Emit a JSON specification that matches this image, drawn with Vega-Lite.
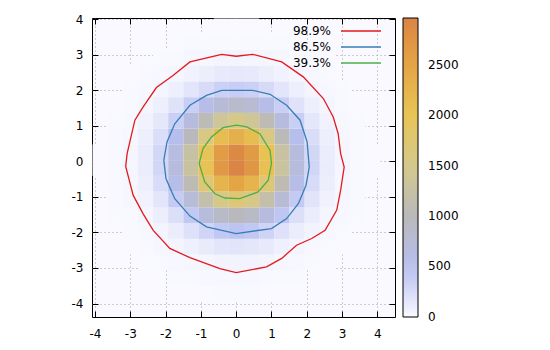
{
  "$schema": "https://vega.github.io/schema/vega-lite/v6.json",
  "width": 303,
  "height": 299,
  "autosize": {"type": "none"},
  "padding": {"left": 92, "top": 18, "right": 155, "bottom": 33},
  "config": {
    "view": {"stroke": "black", "strokeWidth": 1, "fill": "#f9f9ff"},
    "font": "DejaVu Sans",
    "axis": {
      "labelFont": "DejaVu Sans", "labelFontSize": 12, "labelColor": "black", "labelExpr": "'' + datum.value",
      "tickColor": "black", "tickSize": -6, "tickWidth": 1, "domain": false,
      "gridColor": "#a0a0a0", "gridDash": [1, 3], "gridWidth": 1, "zindex": 1, "title": null
    },
    "legend": {"labelFont": "DejaVu Sans", "labelFontSize": 12, "labelColor": "black", "padding": 0}
  },
  "datasets": {
    "hist": [
      {"x": -1.08, "y": -3.937, "v": 2}, {"x": -0.651, "y": -3.937, "v": 3}, {"x": -0.221, "y": -3.937, "v": 3}, {"x": 0.208, "y": -3.937, "v": 3}, {"x": 0.637, "y": -3.937, "v": 2},
      {"x": -1.939, "y": -3.494, "v": 3}, {"x": -1.509, "y": -3.494, "v": 6}, {"x": -1.08, "y": -3.494, "v": 11}, {"x": -0.651, "y": -3.494, "v": 13}, {"x": -0.221, "y": -3.494, "v": 15}, {"x": 0.208, "y": -3.494, "v": 12}, {"x": 0.637, "y": -3.494, "v": 9}, {"x": 1.067, "y": -3.494, "v": 7}, {"x": 1.496, "y": -3.494, "v": 3},
      {"x": -2.797, "y": -3.051, "v": 2}, {"x": -2.368, "y": -3.051, "v": 6}, {"x": -1.939, "y": -3.051, "v": 12}, {"x": -1.509, "y": -3.051, "v": 25}, {"x": -1.08, "y": -3.051, "v": 36}, {"x": -0.651, "y": -3.051, "v": 51}, {"x": -0.221, "y": -3.051, "v": 53}, {"x": 0.208, "y": -3.051, "v": 49}, {"x": 0.637, "y": -3.051, "v": 40}, {"x": 1.067, "y": -3.051, "v": 23}, {"x": 1.496, "y": -3.051, "v": 13}, {"x": 1.925, "y": -3.051, "v": 5}, {"x": 2.354, "y": -3.051, "v": 2},
      {"x": -3.226, "y": -2.608, "v": 2}, {"x": -2.797, "y": -2.608, "v": 6}, {"x": -2.368, "y": -2.608, "v": 18}, {"x": -1.939, "y": -2.608, "v": 38}, {"x": -1.509, "y": -2.608, "v": 77}, {"x": -1.08, "y": -2.608, "v": 118}, {"x": -0.651, "y": -2.608, "v": 161}, {"x": -0.221, "y": -2.608, "v": 171}, {"x": 0.208, "y": -2.608, "v": 157}, {"x": 0.637, "y": -2.608, "v": 124}, {"x": 1.067, "y": -2.608, "v": 75}, {"x": 1.496, "y": -2.608, "v": 41}, {"x": 1.925, "y": -2.608, "v": 17}, {"x": 2.354, "y": -2.608, "v": 7}, {"x": 2.784, "y": -2.608, "v": 2},
      {"x": -3.226, "y": -2.165, "v": 5}, {"x": -2.797, "y": -2.165, "v": 16}, {"x": -2.368, "y": -2.165, "v": 45}, {"x": -1.939, "y": -2.165, "v": 100}, {"x": -1.509, "y": -2.165, "v": 199}, {"x": -1.08, "y": -2.165, "v": 309}, {"x": -0.651, "y": -2.165, "v": 416}, {"x": -0.221, "y": -2.165, "v": 449}, {"x": 0.208, "y": -2.165, "v": 418}, {"x": 0.637, "y": -2.165, "v": 312}, {"x": 1.067, "y": -2.165, "v": 201}, {"x": 1.496, "y": -2.165, "v": 103}, {"x": 1.925, "y": -2.165, "v": 47}, {"x": 2.354, "y": -2.165, "v": 16}, {"x": 2.784, "y": -2.165, "v": 5},
      {"x": -3.656, "y": -1.722, "v": 3}, {"x": -3.226, "y": -1.722, "v": 10}, {"x": -2.797, "y": -1.722, "v": 35}, {"x": -2.368, "y": -1.722, "v": 95}, {"x": -1.939, "y": -1.722, "v": 222}, {"x": -1.509, "y": -1.722, "v": 418}, {"x": -1.08, "y": -1.722, "v": 675}, {"x": -0.651, "y": -1.722, "v": 881}, {"x": -0.221, "y": -1.722, "v": 978}, {"x": 0.208, "y": -1.722, "v": 895}, {"x": 0.637, "y": -1.722, "v": 672}, {"x": 1.067, "y": -1.722, "v": 433}, {"x": 1.496, "y": -1.722, "v": 221}, {"x": 1.925, "y": -1.722, "v": 99}, {"x": 2.354, "y": -1.722, "v": 37}, {"x": 2.784, "y": -1.722, "v": 11}, {"x": 3.213, "y": -1.722, "v": 3},
      {"x": -3.656, "y": -1.279, "v": 5}, {"x": -3.226, "y": -1.279, "v": 18}, {"x": -2.797, "y": -1.279, "v": 62}, {"x": -2.368, "y": -1.279, "v": 167}, {"x": -1.939, "y": -1.279, "v": 391}, {"x": -1.509, "y": -1.279, "v": 738}, {"x": -1.08, "y": -1.279, "v": 1186}, {"x": -0.651, "y": -1.279, "v": 1554}, {"x": -0.221, "y": -1.279, "v": 1722}, {"x": 0.208, "y": -1.279, "v": 1563}, {"x": 0.637, "y": -1.279, "v": 1199}, {"x": 1.067, "y": -1.279, "v": 751}, {"x": 1.496, "y": -1.279, "v": 398}, {"x": 1.925, "y": -1.279, "v": 171}, {"x": 2.354, "y": -1.279, "v": 64}, {"x": 2.784, "y": -1.279, "v": 19}, {"x": 3.213, "y": -1.279, "v": 5},
      {"x": -3.656, "y": -0.836, "v": 7}, {"x": -3.226, "y": -0.836, "v": 27}, {"x": -2.797, "y": -0.836, "v": 88}, {"x": -2.368, "y": -0.836, "v": 243}, {"x": -1.939, "y": -0.836, "v": 565}, {"x": -1.509, "y": -0.836, "v": 1071}, {"x": -1.08, "y": -0.836, "v": 1716}, {"x": -0.651, "y": -0.836, "v": 2251}, {"x": -0.221, "y": -0.836, "v": 2490}, {"x": 0.208, "y": -0.836, "v": 2275}, {"x": 0.637, "y": -0.836, "v": 1722}, {"x": 1.067, "y": -0.836, "v": 1098}, {"x": 1.496, "y": -0.836, "v": 570}, {"x": 1.925, "y": -0.836, "v": 254}, {"x": 2.354, "y": -0.836, "v": 90}, {"x": 2.784, "y": -0.836, "v": 28}, {"x": 3.213, "y": -0.836, "v": 7},
      {"x": -4.085, "y": -0.393, "v": 2}, {"x": -3.656, "y": -0.393, "v": 8}, {"x": -3.226, "y": -0.393, "v": 31}, {"x": -2.797, "y": -0.393, "v": 106}, {"x": -2.368, "y": -0.393, "v": 289}, {"x": -1.939, "y": -0.393, "v": 671}, {"x": -1.509, "y": -0.393, "v": 1276}, {"x": -1.08, "y": -0.393, "v": 2038}, {"x": -0.651, "y": -0.393, "v": 2680}, {"x": -0.221, "y": -0.393, "v": 2962}, {"x": 0.208, "y": -0.393, "v": 2697}, {"x": 0.637, "y": -0.393, "v": 2060}, {"x": 1.067, "y": -0.393, "v": 1303}, {"x": 1.496, "y": -0.393, "v": 680}, {"x": 1.925, "y": -0.393, "v": 300}, {"x": 2.354, "y": -0.393, "v": 108}, {"x": 2.784, "y": -0.393, "v": 33}, {"x": 3.213, "y": -0.393, "v": 8}, {"x": 3.642, "y": -0.393, "v": 2},
      {"x": -4.085, "y": 0.05, "v": 2}, {"x": -3.656, "y": 0.05, "v": 8}, {"x": -3.226, "y": 0.05, "v": 31}, {"x": -2.797, "y": 0.05, "v": 102}, {"x": -2.368, "y": 0.05, "v": 286}, {"x": -1.939, "y": 0.05, "v": 651}, {"x": -1.509, "y": 0.05, "v": 1255}, {"x": -1.08, "y": 0.05, "v": 1986}, {"x": -0.651, "y": 0.05, "v": 2633}, {"x": -0.221, "y": 0.05, "v": 2888}, {"x": 0.208, "y": 0.05, "v": 2640}, {"x": 0.637, "y": 0.05, "v": 2017}, {"x": 1.067, "y": 0.05, "v": 1269}, {"x": 1.496, "y": 0.05, "v": 671}, {"x": 1.925, "y": 0.05, "v": 290}, {"x": 2.354, "y": 0.05, "v": 106}, {"x": 2.784, "y": 0.05, "v": 32}, {"x": 3.213, "y": 0.05, "v": 8}, {"x": 3.642, "y": 0.05, "v": 2},
      {"x": -3.656, "y": 0.493, "v": 6}, {"x": -3.226, "y": 0.493, "v": 25}, {"x": -2.797, "y": 0.493, "v": 84}, {"x": -2.368, "y": 0.493, "v": 227}, {"x": -1.939, "y": 0.493, "v": 528}, {"x": -1.509, "y": 0.493, "v": 1002}, {"x": -1.08, "y": 0.493, "v": 1601}, {"x": -0.651, "y": 0.493, "v": 2106}, {"x": -0.221, "y": 0.493, "v": 2327}, {"x": 0.208, "y": 0.493, "v": 2118}, {"x": 0.637, "y": 0.493, "v": 1620}, {"x": 1.067, "y": 0.493, "v": 1019}, {"x": 1.496, "y": 0.493, "v": 539}, {"x": 1.925, "y": 0.493, "v": 233}, {"x": 2.354, "y": 0.493, "v": 86}, {"x": 2.784, "y": 0.493, "v": 26}, {"x": 3.213, "y": 0.493, "v": 7},
      {"x": -3.656, "y": 0.936, "v": 4}, {"x": -3.226, "y": 0.936, "v": 16}, {"x": -2.797, "y": 0.936, "v": 55}, {"x": -2.368, "y": 0.936, "v": 150}, {"x": -1.939, "y": 0.936, "v": 349}, {"x": -1.509, "y": 0.936, "v": 662}, {"x": -1.08, "y": 0.936, "v": 1060}, {"x": -0.651, "y": 0.936, "v": 1392}, {"x": -0.221, "y": 0.936, "v": 1541}, {"x": 0.208, "y": 0.936, "v": 1400}, {"x": 0.637, "y": 0.936, "v": 1072}, {"x": 1.067, "y": 0.936, "v": 673}, {"x": 1.496, "y": 0.936, "v": 357}, {"x": 1.925, "y": 0.936, "v": 154}, {"x": 2.354, "y": 0.936, "v": 57}, {"x": 2.784, "y": 0.936, "v": 17}, {"x": 3.213, "y": 0.936, "v": 4},
      {"x": -3.656, "y": 1.379, "v": 2}, {"x": -3.226, "y": 1.379, "v": 9}, {"x": -2.797, "y": 1.379, "v": 30}, {"x": -2.368, "y": 1.379, "v": 81}, {"x": -1.939, "y": 1.379, "v": 190}, {"x": -1.509, "y": 1.379, "v": 359}, {"x": -1.08, "y": 1.379, "v": 577}, {"x": -0.651, "y": 1.379, "v": 755}, {"x": -0.221, "y": 1.379, "v": 838}, {"x": 0.208, "y": 1.379, "v": 760}, {"x": 0.637, "y": 1.379, "v": 583}, {"x": 1.067, "y": 1.379, "v": 365}, {"x": 1.496, "y": 1.379, "v": 194}, {"x": 1.925, "y": 1.379, "v": 85}, {"x": 2.354, "y": 1.379, "v": 31}, {"x": 2.784, "y": 1.379, "v": 9}, {"x": 3.213, "y": 1.379, "v": 2},
      {"x": -3.226, "y": 1.822, "v": 4}, {"x": -2.797, "y": 1.822, "v": 13}, {"x": -2.368, "y": 1.822, "v": 37}, {"x": -1.939, "y": 1.822, "v": 83}, {"x": -1.509, "y": 1.822, "v": 162}, {"x": -1.08, "y": 1.822, "v": 254}, {"x": -0.651, "y": 1.822, "v": 340}, {"x": -0.221, "y": 1.822, "v": 370}, {"x": 0.208, "y": 1.822, "v": 342}, {"x": 0.637, "y": 1.822, "v": 261}, {"x": 1.067, "y": 1.822, "v": 163}, {"x": 1.496, "y": 1.822, "v": 86}, {"x": 1.925, "y": 1.822, "v": 38}, {"x": 2.354, "y": 1.822, "v": 14}, {"x": 2.784, "y": 1.822, "v": 4},
      {"x": -3.226, "y": 2.265, "v": 2}, {"x": -2.797, "y": 2.265, "v": 5}, {"x": -2.368, "y": 2.265, "v": 13}, {"x": -1.939, "y": 2.265, "v": 31}, {"x": -1.509, "y": 2.265, "v": 59}, {"x": -1.08, "y": 2.265, "v": 94}, {"x": -0.651, "y": 2.265, "v": 123}, {"x": -0.221, "y": 2.265, "v": 137}, {"x": 0.208, "y": 2.265, "v": 125}, {"x": 0.637, "y": 2.265, "v": 95}, {"x": 1.067, "y": 2.265, "v": 60}, {"x": 1.496, "y": 2.265, "v": 31}, {"x": 1.925, "y": 2.265, "v": 14}, {"x": 2.354, "y": 2.265, "v": 5},
      {"x": -2.368, "y": 2.708, "v": 4}, {"x": -1.939, "y": 2.708, "v": 9}, {"x": -1.509, "y": 2.708, "v": 18}, {"x": -1.08, "y": 2.708, "v": 28}, {"x": -0.651, "y": 2.708, "v": 38}, {"x": -0.221, "y": 2.708, "v": 41}, {"x": 0.208, "y": 2.708, "v": 37}, {"x": 0.637, "y": 2.708, "v": 29}, {"x": 1.067, "y": 2.708, "v": 18}, {"x": 1.496, "y": 2.708, "v": 10}, {"x": 1.925, "y": 2.708, "v": 4}, {"x": 2.354, "y": 2.708, "v": 2},
      {"x": -1.939, "y": 3.151, "v": 2}, {"x": -1.509, "y": 3.151, "v": 4}, {"x": -1.08, "y": 3.151, "v": 7}, {"x": -0.651, "y": 3.151, "v": 9}, {"x": -0.221, "y": 3.151, "v": 10}, {"x": 0.208, "y": 3.151, "v": 9}, {"x": 0.637, "y": 3.151, "v": 7}, {"x": 1.067, "y": 3.151, "v": 5}, {"x": 1.496, "y": 3.151, "v": 2},
      {"x": -0.651, "y": 3.594, "v": 2}, {"x": -0.221, "y": 3.594, "v": 2}, {"x": 0.208, "y": 3.594, "v": 2}
    ],
    "cont": [
      {"level": "98.9%", "k": 0, "cx": -0.41, "cy": 3.015}, {"level": "98.9%", "k": 1, "cx": 0.0, "cy": 2.96}, {"level": "98.9%", "k": 2, "cx": 0.465, "cy": 3.015}, {"level": "98.9%", "k": 3, "cx": 1.29, "cy": 2.8}, {"level": "98.9%", "k": 4, "cx": 1.9, "cy": 2.38}, {"level": "98.9%", "k": 5, "cx": 2.47, "cy": 1.77}, {"level": "98.9%", "k": 6, "cx": 2.75, "cy": 1.25}, {"level": "98.9%", "k": 7, "cx": 2.89, "cy": 0.78}, {"level": "98.9%", "k": 8, "cx": 2.96, "cy": 0.22}, {"level": "98.9%", "k": 9, "cx": 3.06, "cy": -0.16}, {"level": "98.9%", "k": 10, "cx": 2.96, "cy": -0.81}, {"level": "98.9%", "k": 11, "cx": 2.85, "cy": -1.37}, {"level": "98.9%", "k": 12, "cx": 2.52, "cy": -1.94}, {"level": "98.9%", "k": 13, "cx": 2.14, "cy": -2.17}, {"level": "98.9%", "k": 14, "cx": 1.71, "cy": -2.36}, {"level": "98.9%", "k": 15, "cx": 1.29, "cy": -2.73}, {"level": "98.9%", "k": 16, "cx": 0.86, "cy": -2.97}, {"level": "98.9%", "k": 17, "cx": 0.0, "cy": -3.13}, {"level": "98.9%", "k": 18, "cx": -0.46, "cy": -3.02}, {"level": "98.9%", "k": 19, "cx": -1.31, "cy": -2.71}, {"level": "98.9%", "k": 20, "cx": -1.88, "cy": -2.45}, {"level": "98.9%", "k": 21, "cx": -2.35, "cy": -1.94}, {"level": "98.9%", "k": 22, "cx": -2.64, "cy": -1.47}, {"level": "98.9%", "k": 23, "cx": -2.92, "cy": -0.95}, {"level": "98.9%", "k": 24, "cx": -3.13, "cy": -0.14}, {"level": "98.9%", "k": 25, "cx": -3.09, "cy": 0.22}, {"level": "98.9%", "k": 26, "cx": -2.87, "cy": 1.16}, {"level": "98.9%", "k": 27, "cx": -2.64, "cy": 1.53}, {"level": "98.9%", "k": 28, "cx": -2.26, "cy": 2.08}, {"level": "98.9%", "k": 29, "cx": -1.79, "cy": 2.42}, {"level": "98.9%", "k": 30, "cx": -1.31, "cy": 2.8}, {"level": "98.9%", "k": 31, "cx": -0.41, "cy": 3.015},
      {"level": "86.5%", "k": 0, "cx": -0.41, "cy": 2.0}, {"level": "86.5%", "k": 1, "cx": 0.0, "cy": 2.0}, {"level": "86.5%", "k": 2, "cx": 0.465, "cy": 2.0}, {"level": "86.5%", "k": 3, "cx": 0.96, "cy": 1.89}, {"level": "86.5%", "k": 4, "cx": 1.43, "cy": 1.58}, {"level": "86.5%", "k": 5, "cx": 1.81, "cy": 1.16}, {"level": "86.5%", "k": 6, "cx": 2.01, "cy": 0.55}, {"level": "86.5%", "k": 7, "cx": 2.07, "cy": -0.16}, {"level": "86.5%", "k": 8, "cx": 1.98, "cy": -0.67}, {"level": "86.5%", "k": 9, "cx": 1.76, "cy": -1.19}, {"level": "86.5%", "k": 10, "cx": 1.43, "cy": -1.61}, {"level": "86.5%", "k": 11, "cx": 1.0, "cy": -1.89}, {"level": "86.5%", "k": 12, "cx": 0.0, "cy": -2.03}, {"level": "86.5%", "k": 13, "cx": -0.84, "cy": -1.84}, {"level": "86.5%", "k": 14, "cx": -1.31, "cy": -1.54}, {"level": "86.5%", "k": 15, "cx": -1.74, "cy": -1.05}, {"level": "86.5%", "k": 16, "cx": -1.99, "cy": -0.48}, {"level": "86.5%", "k": 17, "cx": -2.05, "cy": 0.03}, {"level": "86.5%", "k": 18, "cx": -1.96, "cy": 0.55}, {"level": "86.5%", "k": 19, "cx": -1.74, "cy": 1.06}, {"level": "86.5%", "k": 20, "cx": -1.31, "cy": 1.58}, {"level": "86.5%", "k": 21, "cx": -0.84, "cy": 1.86}, {"level": "86.5%", "k": 22, "cx": -0.41, "cy": 2.0},
      {"level": "39.3%", "k": 0, "cx": 0.01, "cy": 1.02}, {"level": "39.3%", "k": 1, "cx": 0.3, "cy": 0.97}, {"level": "39.3%", "k": 2, "cx": 0.67, "cy": 0.78}, {"level": "39.3%", "k": 3, "cx": 0.96, "cy": 0.31}, {"level": "39.3%", "k": 4, "cx": 1.0, "cy": -0.06}, {"level": "39.3%", "k": 5, "cx": 0.91, "cy": -0.53}, {"level": "39.3%", "k": 6, "cx": 0.62, "cy": -0.86}, {"level": "39.3%", "k": 7, "cx": 0.1, "cy": -1.05}, {"level": "39.3%", "k": 8, "cx": -0.32, "cy": -1.03}, {"level": "39.3%", "k": 9, "cx": -0.6, "cy": -0.91}, {"level": "39.3%", "k": 10, "cx": -0.89, "cy": -0.58}, {"level": "39.3%", "k": 11, "cx": -1.05, "cy": -0.06}, {"level": "39.3%", "k": 12, "cx": -0.94, "cy": 0.36}, {"level": "39.3%", "k": 13, "cx": -0.7, "cy": 0.69}, {"level": "39.3%", "k": 14, "cx": -0.37, "cy": 0.95}, {"level": "39.3%", "k": 15, "cx": 0.01, "cy": 1.02}
    ]
  },
  "layer": [
    {
      "data": {"name": "hist"},
      "mark": {"type": "rect", "binSpacing": 0},
      "encoding": {
        "x": {"field": "x", "type": "quantitative", "bin": {"binned": true, "step": 0.4293},
          "scale": {"domain": [-4.085, 4.5], "nice": false, "zero": false},
          "axis": {"orient": "bottom", "values": [-4, -3, -2, -1, 0, 1, 2, 3, 4], "grid": true, "labelPadding": 17}},
        "y": {"field": "y", "type": "quantitative", "bin": {"binned": true, "step": 0.443},
          "scale": {"domain": [-4.38, 4.037], "nice": false, "zero": false},
          "axis": {"orient": "left", "values": [-4, -3, -2, -1, 0, 1, 2, 3, 4], "grid": true, "labelPadding": 15}},
        "fill": {"field": "v", "type": "quantitative",
          "scale": {"type": "linear", "domain": [-1, 500, 1000, 1500, 2000, 2500, 2965], "range": ["#f9f9ff", "#b6bef0", "#b9b9bb", "#d4c98c", "#e8c455", "#e4a545", "#da8445"], "interpolate": "rgb"},
          "legend": {"type": "gradient", "orient": "none", "legendX": 311, "legendY": 0, "title": null, "direction": "vertical",
            "gradientLength": 299, "gradientThickness": 15, "gradientStrokeColor": "black", "gradientStrokeWidth": 1,
            "values": [0, 500, 1000, 1500, 2000, 2500], "format": "d", "labelOffset": 10, "labelOverlap": false}}
      }
    },
    {
      "data": {"name": "cont"},
      "mark": {"type": "line", "strokeWidth": 1.3},
      "encoding": {
        "x": {"field": "cx", "type": "quantitative", "axis": {"orient": "top", "values": [-4, -3, -2, -1, 0, 1, 2, 3, 4], "labels": false, "grid": false}},
        "y": {"field": "cy", "type": "quantitative", "axis": {"orient": "right", "values": [-4, -3, -2, -1, 0, 1, 2, 3, 4], "labels": false, "grid": false}},
        "stroke": {"field": "level", "type": "nominal",
          "scale": {"domain": ["98.9%", "86.5%", "39.3%"], "range": ["#e41a1c", "#377eb8", "#4daf4a"]},
          "legend": {"orient": "none", "legendX": 260, "legendY": 4, "title": null, "symbolType": "M-2.5,0H2.5", "symbolSize": 256, "symbolStrokeWidth": 1.5,
            "labelAlign": "right", "labelOffset": -39, "rowPadding": 1}},
        "order": {"field": "k", "type": "quantitative"}
      }
    }
  ],
  "resolve": {"axis": {"x": "independent", "y": "independent"}}
}
